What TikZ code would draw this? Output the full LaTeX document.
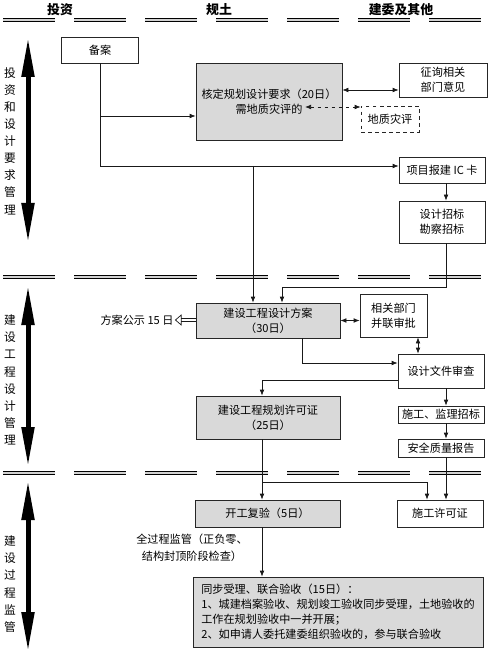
\documentclass[tikz,border=0pt]{standalone}
\usepackage{fontspec}
\newfontfamily\cjk{Noto Sans CJK SC}
\usetikzlibrary{arrows.meta}

\tikzset{
  box/.style={draw=black!85, line width=0.6pt, inner sep=0pt, align=center,
    font=\cjk\fontsize{9.5}{12.8}\selectfont},
  greybox/.style={box, fill=gray!30},
  sz/.style 2 args={minimum width=#1*0.3mm, minimum height=#2*0.3mm},
  conn/.style={draw=black!90, line width=0.6pt},
  arr/.style={-{Latex[length=1.8mm,width=1.4mm]}},
  arrboth/.style={{Latex[length=1.8mm,width=1.4mm]}-{Latex[length=1.8mm,width=1.4mm]}},
  sepline/.style={double=gray!35, double distance=1.1pt, line width=1.3pt,
    dash pattern=on 15.6mm off 5.7mm},
  phase/.style={line width=1.5mm,
    {Triangle[length=12mm,width=3.6mm]}-{Triangle[length=12mm,width=3.6mm]}},
  phaselabel/.style={font=\cjk\fontsize{10}{14.6}\selectfont, align=center, inner sep=0pt},
  colhead/.style={font=\cjk\bfseries\fontsize{11}{13}\selectfont, inner sep=0pt},
  note/.style={font=\cjk\fontsize{9.5}{14.5}\selectfont, align=center, inner sep=1pt},
}

\begin{document}
\begin{tikzpicture}[x=0.3mm, y=-0.3mm]
\useasboundingbox (0,0) rectangle (500,654);

% column headings
\node[colhead] (h1) at (60,10) {投资};
\node[colhead] (h2) at (219,10) {规土};
\node[colhead] (h3) at (401,10) {建委及其他};

% stage separators
\foreach \y in {20,277,473}
  \draw[sepline] (3,\y) -- (500,\y);

% stages on the left
\draw[phase] (28,37) -- (28,243);
\draw[phase] (28,285) -- (28,467);
\draw[phase] (28,480) -- (28,652);
\node[phaselabel] (p1) at (10,141) {投\\资\\和\\设\\计\\要\\求\\管\\理};
\node[phaselabel] (p2) at (10,380) {建\\设\\工\\程\\设\\计\\管\\理};
\node[phaselabel] (p3) at (10,584) {建\\设\\过\\程\\监\\管};

% boxes
\node[box, sz={77}{26}] (ba) at (100,50) {备案};
\node[greybox, sz={146}{77}] (hd) at (269,101.5) {核定规划设计要求（20日）\\需地质灾评的};
\node[box, sz={88}{34}] (zx) at (443,80) {征询相关\\部门意见};
\node[box, dashed, sz={58}{26}] (dz) at (390,119) {地质灾评};
\node[box, sz={86}{26}] (ic) at (442,170) {项目报建 IC 卡};
\node[box, sz={86}{42}] (zb) at (442,222) {设计招标\\勘察招标};
\node[greybox, sz={144}{35}] (fa) at (268,320.5) {建设工程设计方案\\（30日）};
\node[box, sz={67}{43}] (bl) at (393.5,315.5) {相关部门\\并联审批};
\node[box, sz={86}{34}] (sc) at (441,371) {设计文件审查};
\node[greybox, sz={144}{43}] (xk) at (268,417.5) {建设工程规划许可证\\（25日）};
\node[box, sz={86}{17}] (jl) at (441,414.5) {施工、监理招标};
\node[box, sz={86}{18}] (aq) at (441,448) {安全质量报告};
\node[box, sz={86}{27}] (sg) at (440,513.5) {施工许可证};
\node[greybox, sz={145}{27}] (kg) at (267.5,513.5) {开工复验（5日）};
\node[greybox, sz={290}{70}, align=left] (tb) at (338,612) {同步受理、联合验收（15日）：\\1、城建档案验收、规划竣工验收同步受理，土地验收的\\工作在规划验收中一并开展；\\2、如申请人委托建委组织验收的，参与联合验收};

% free texts
\node[note] (gs) at (137,320) {方案公示 15 日};
\node[note] (qg) at (192,548) {全过程监管（正负零、\\结构封顶阶段检查）};

% bend points
\coordinate (rc) at (446,0);
\coordinate (mc) at (262,0);
\coordinate (bc) at (418,0);
\coordinate (j0) at (100,116);
\coordinate (j1) at (100,166);
\coordinate (j2) at (253,166);
\coordinate (j3) at (282,287);
\coordinate (j4) at (302,363);
\coordinate (j5) at (262,380);
\coordinate (j6) at (262,482);
\coordinate (j7) at (427,482);
\coordinate (j8) at (0,90);
\coordinate (geo) at (305,107);

% connectors
\draw[conn] (ba.south) -- (j1);
\draw[conn, arr] (j0) -- (j0 -| hd.west);
\draw[conn, arr] (j1) -- (j1 -| ic.west);
\draw[conn, arr] (j2) -- (j2 |- fa.north);
\draw[conn, arrboth] (hd.east |- j8) -- (zx.west |- j8);
\draw[conn, arrboth, dashed] (geo) -- (geo -| dz.west);
\draw[conn, arr] (ic.south -| rc) -- (zb.north -| rc);
\draw[conn, arr] (zb.south -| rc) |- (j3) -- (j3 |- fa.north);
\draw[conn, arrboth] (fa.east) -- (fa.east -| bl.west);
\draw[conn, arrboth] (bl.south -| bc) -- (sc.north -| bc);
\draw[conn, arr] (fa.south -| j4) |- (j4 -| sc.west);
\draw[conn, arr] (j5 -| sc.west) -| (xk.north -| j5);
\draw[conn, arr] (sc.south -| rc) -- (jl.north -| rc);
\draw[conn, arr] (jl.south -| rc) -- (aq.north -| rc);
\draw[conn, arr] (aq.south -| rc) -- (sg.north -| rc);
\draw[conn, arr] (xk.south -| mc) -- (kg.north -| mc);
\draw[conn, arr] (j6) -| (sg.north -| j7);
\draw[conn, arr] (kg.south -| mc) -- (tb.north -| mc);
\draw[conn, double, double distance=1.4pt, -{Triangle[open,length=2mm,width=3.4mm]}]
  (fa.west |- gs.east) -- (gs.east);

\end{tikzpicture}
\end{document}
